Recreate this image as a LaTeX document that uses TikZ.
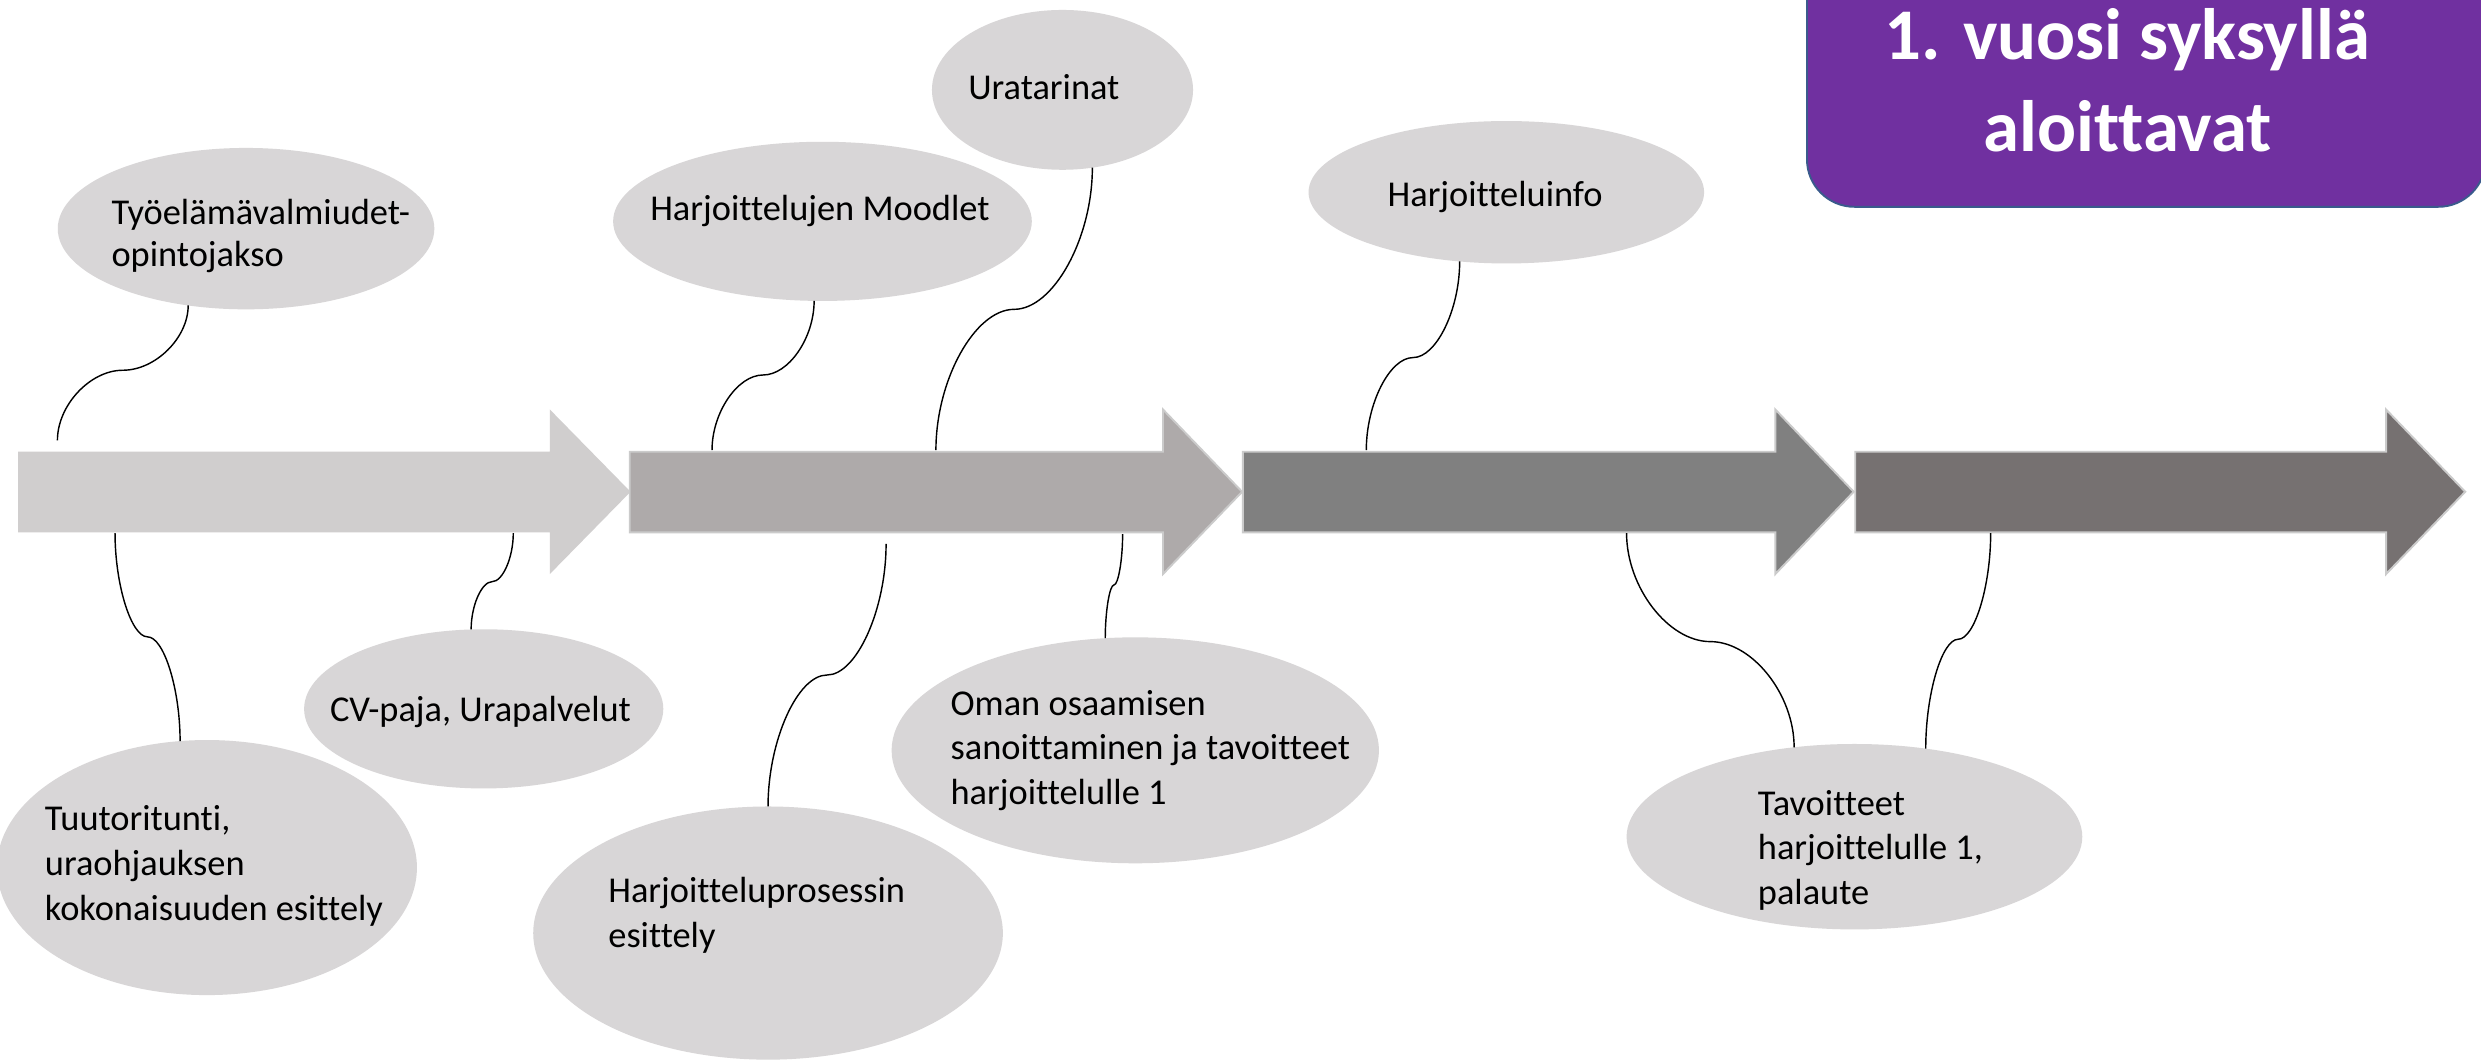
\documentclass[tikz,border=0pt]{standalone}
\usepackage{fontspec}
\setmainfont{Carlito}[Ligatures={NoCommon}]
\usetikzlibrary{shapes.geometric,calc}
\definecolor{arA}{HTML}{D0CECE}
\definecolor{arB}{HTML}{AEAAAA}
\definecolor{arC}{HTML}{808080}
\definecolor{arD}{HTML}{767171}
\definecolor{rim}{HTML}{CBCBCB}
\definecolor{bubfill}{HTML}{D8D6D7}
\definecolor{purp}{HTML}{7030A0}
\definecolor{purpedge}{HTML}{3A5A8C}
\newcommand\ml[2]{{\fontsize{23}{#1}\selectfont\begin{tabular}[t]{@{}l@{}}#2\end{tabular}}}
\newcommand\blockarrow[4]{%
  \path[#4] (#1,285.5) -- (#2,285.5) -- (#2,258.8) -- (#3,310.8) -- (#2,362.8) -- (#2,336.5) -- (#1,336.5) -- cycle;}
\newcommand\curv[3]{%
  \draw[conn] let \p1=(#1), \p2=(#2), \p3=(#3) in
    (\p1) .. controls ({\x1},{(\y1+\y2)/2}) and ({(3*\x1+\x3)/4},{\y2}) .. ({(\x1+\x3)/2},{\y2})
          .. controls ({(\x1+3*\x3)/4},{\y2}) and ({\x3},{(\y2+\y3)/2}) .. (\p3);}
\tikzset{
  bub/.style={ellipse, fill=bubfill, draw=none, inner sep=0pt, outer sep=0pt},
  txt/.style={inner sep=0pt, outer sep=0pt, anchor=base west, font=\fontsize{23}{28.4}\selectfont},
  conn/.style={draw=black, line width=0.9pt},
  titlebox/.style={fill=purp, draw=purpedge, line width=1.2pt, rounded corners=30pt},
}
\begin{document}
\begin{tikzpicture}[x=1pt,y=-1pt]
\useasboundingbox (0,0) rectangle (1568,671);
\clip (0,0) rectangle (1568,671);
\fill[white] (0,0) rectangle (1568,671);

% timeline arrows
\blockarrow{11.5}{347.5}{398.5}{fill=arA}
\blockarrow{398}{735}{785}{fill=arB, draw=rim, line width=1.2pt}
\blockarrow{785.5}{1122}{1171.5}{fill=arC, draw=rim, line width=1.2pt}
\blockarrow{1172.5}{1508}{1558}{fill=arD, draw=rim, line width=1.2pt}

% bubbles
\node[bub, minimum width=238pt, minimum height=102pt] (e1) at (155.5,144.5) {};
\node[bub, minimum width=264.6pt, minimum height=100.6pt] (e2) at (519.8,139.9) {};
\node[bub, minimum width=165pt, minimum height=101pt] (e3) at (671.5,56.8) {};
\node[bub, minimum width=250pt, minimum height=90pt] (e4) at (952,121.5) {};
\node[bub, minimum width=265.4pt, minimum height=161.2pt] (e5) at (130.8,548.3) {};
\node[bub, minimum width=227pt, minimum height=100.6pt] (e6) at (305.7,448) {};
\node[bub, minimum width=296.8pt, minimum height=160pt] (e7) at (485.4,589.7) {};
\node[bub, minimum width=308pt, minimum height=142.8pt] (e8) at (717.5,474.2) {};
\node[bub, minimum width=288pt, minimum height=117.2pt] (e9) at (1172,528.8) {};

% free ends of connectors at the arrows
\coordinate (p1) at (36.3,278.3);
\coordinate (p2) at (450,284.5);
\coordinate (p3) at (591.5,284.5);
\coordinate (p4) at (863.5,284.5);
\coordinate (p5) at (72.7,336.9);
\coordinate (p6) at (324.4,336.9);
\coordinate (p7) at (560,343.8);
\coordinate (p8) at (709.5,337.5);
\coordinate (p9) at (1028,337);
\coordinate (p10) at (1258.1,337);

% connectors
\curv{e1.233.4}{0,234}{p1}
\curv{e2.264.5}{0,237}{p2}
\curv{e3.291.6}{0,195.5}{p3}
\curv{e4.236}{0,226}{p4}
\curv{p5}{0,402.5}{e5.102.5}
\curv{p6}{0,367.6}{e6.99.8}
\curv{p7}{0,426.6}{e7.90}
\curv{p8}{0,369.7}{e8.105.8}
\curv{p9}{0,405.5}{e9.124.9}
\curv{p10}{0,404}{e9.51.05}

% texts
\node[txt] (t1) at (70.5,141.8) {\ml{26.7}{Työelämävalmiudet-\\opintojakso}};
\node[txt] (t2) at (411,139.5) {Harjoittelujen Moodlet};
\node[txt] (t3) at (612,63.2) {Uratarinat};
\node[txt] (t4) at (877,130.6) {Harjoitteluinfo};
\node[txt] (t5) at (28.4,524.6) {\ml{28.5}{Tuutoritunti,\\uraohjauksen\\kokonaisuuden esittely}};
\node[txt] (t6) at (208.6,456.1) {CV-paja, Urapalvelut};
\node[txt] (t7) at (384.5,570.5) {\ml{28.2}{Harjoitteluprosessin\\esittely}};
\node[txt] (t8) at (600.8,451.9) {\ml{28.4}{Oman osaamisen\\sanoittaminen ja tavoitteet\\harjoittelulle 1}};
\node[txt] (t9) at (1111,515.1) {\ml{28.4}{Tavoitteet\\harjoittelulle 1,\\palaute}};

% title box
\path[titlebox] (1142,-50) rectangle (1571,130.7);
\node[inner sep=0pt, anchor=base, text=white, font=\fontsize{46}{57.6}\bfseries] (title) at (1344.5,37.9)
  {\begin{tabular}[t]{@{}c@{}}1. vuosi syksyllä\\aloittavat\end{tabular}};
\end{tikzpicture}
\end{document}
